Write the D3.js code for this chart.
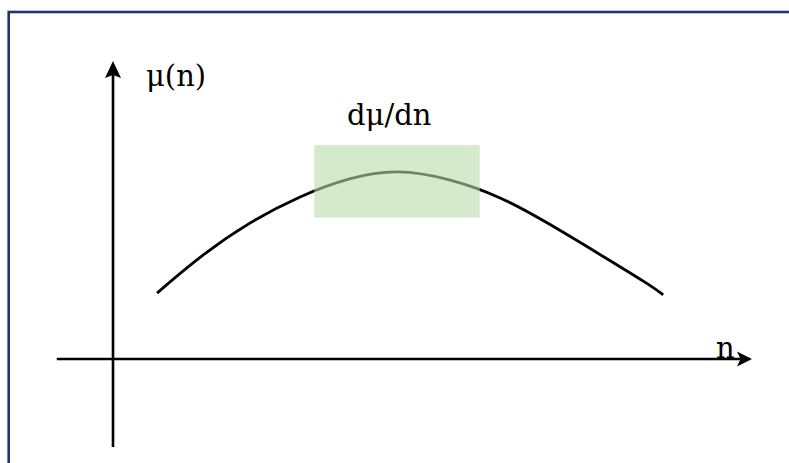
<!DOCTYPE html>
<html>
<head>
<meta charset="utf-8">
<script src="https://cdn.jsdelivr.net/npm/d3@7"></script>
<style>
  html, body { margin: 0; padding: 0; background: #ffffff; }
  svg { display: block; }
</style>
</head>
<body>
<div id="chart"></div>
<script>
// ---- data ----
// curve mu(n) (n, mu in axis units)
const curveN  = [0.69, 1.36, 2.14, 2.93, 3.71, 4.44, 5.27, 6.06, 6.84, 7.62, 8.40, 8.61];
const curveMu = [1.11, 1.73, 2.31, 2.75, 3.06, 3.20, 3.04, 2.74, 2.27, 1.76, 1.25, 1.08];
// highlighted region (derivative window)
const highlightN  = [3.15, 5.74];
const highlightMu = [2.38, 3.60];
// axis extents
const axisN  = [-0.88, 10.0];
const axisMu = [-1.48, 5.0];
// labels
const labels = ["\u03bc(n)", "d\u03bc/dn", "n"];

const W = 789, H = 463;
const svg = d3.select("#chart").append("svg").attr("width", W).attr("height", H);

const x = d3.scaleLinear().domain([0, 10]).range([113, 752]);
const y = d3.scaleLinear().domain([0, 5]).range([359, 62]);

// frame
svg.append("rect")
  .attr("x", 8.7).attr("y", 12).attr("width", 900).attr("height", 600)
  .attr("fill", "none").attr("stroke", "#1b3572").attr("stroke-width", 2.6);

// axes
const axisStroke = "#000";
svg.append("line")
  .attr("x1", x(axisN[0])).attr("x2", x(axisN[1]) - 8)
  .attr("y1", y(0)).attr("y2", y(0))
  .attr("stroke", axisStroke).attr("stroke-width", 2.6);
svg.append("line")
  .attr("x1", x(0)).attr("x2", x(0))
  .attr("y1", y(axisMu[0])).attr("y2", y(axisMu[1]) + 8)
  .attr("stroke", axisStroke).attr("stroke-width", 2.6);

// arrowheads
const hx = x(axisN[1]), hy = y(0);
svg.append("path")
  .attr("d", `M${hx},${hy} L${hx-15},${hy-7.5} L${hx-11.5},${hy} L${hx-15},${hy+7.5} Z`)
  .attr("fill", "#000");
const vx = x(0), vy = y(axisMu[1]);
svg.append("path")
  .attr("d", `M${vx},${vy-1} L${vx+8},${vy+16} L${vx},${vy+13} L${vx-8},${vy+16} Z`)
  .attr("fill", "#000");

// curve
const pts = curveN.map((n, i) => [n, curveMu[i]]);
const line = d3.line().x(d => x(d[0])).y(d => y(d[1])).curve(d3.curveBasis);
svg.append("path").datum(pts)
  .attr("d", line)
  .attr("fill", "none").attr("stroke", "#000").attr("stroke-width", 2.8);

// highlight box (semi-transparent, drawn over curve)
svg.append("rect")
  .attr("x", x(highlightN[0])).attr("y", y(highlightMu[1]))
  .attr("width", x(highlightN[1]) - x(highlightN[0]))
  .attr("height", y(highlightMu[0]) - y(highlightMu[1]))
  .attr("fill", "rgb(185,218,170)").attr("fill-opacity", 0.6);

// labels
const font = "'DejaVu Serif', serif";
svg.append("text").text(labels[0])
  .attr("x", 146).attr("y", 86)
  .attr("font-family", font).attr("font-size", 29).attr("fill", "#000");
svg.append("text").text(labels[1])
  .attr("x", 347).attr("y", 125)
  .attr("font-family", font).attr("font-size", 29).attr("fill", "#000");
svg.append("text").text(labels[2])
  .attr("x", 716).attr("y", 358)
  .attr("font-family", font).attr("font-size", 29).attr("fill", "#000");
</script>
</body>
</html>
